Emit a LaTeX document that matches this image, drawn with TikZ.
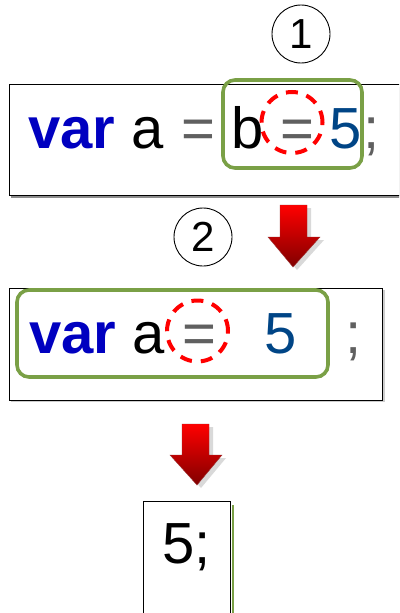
\documentclass[tikz,border=0pt]{standalone}
\usepackage{fontspec}
\setmainfont{Liberation Sans}
\definecolor{kwblue}{RGB}{0,0,192}
\definecolor{numblue}{RGB}{0,69,134}
\definecolor{opgray}{RGB}{96,96,96}
\definecolor{boxgreen}{RGB}{122,160,70}
\definecolor{arrred}{RGB}{255,0,0}
\definecolor{arrdark}{RGB}{128,0,0}
\tikzset{
  tok/.style={inner sep=0pt, anchor=base, font=\fontsize{58}{60}\selectfont},
  codebox/.style={draw=black, line width=0.9pt, fill=white},
  greenbox/.style={draw=boxgreen, line width=3.6pt, rounded corners=12pt},
  redring/.style={draw=red, line width=4pt, dash pattern=on 12pt off 9pt},
  numcircle/.style={draw=black, line width=0.9pt, circle, minimum size=58pt, inner sep=0pt, font=\fontsize{42}{44}\selectfont},
  arrshadow/.style={fill=black!15, draw=none},
  arrbody/.style={top color=arrred, bottom color=arrdark, draw=arrdark!80, line width=0.4pt}
}
\begin{document}
\begin{tikzpicture}[x=1pt,y=-1pt]
\useasboundingbox (0,0) rectangle (399,613);
\clip (0,0) rectangle (399,613);
\fill[white] (0,0) rectangle (399,613);

% ---------- circled numbers ----------
\node[numcircle] (n1) at (301,34) {1};
\node[numcircle] (n2) at (203,237) {2};

% ---------- box 1 ----------
\fill[black!45] (11,87) rectangle (412,198);
\draw[codebox] (9,84) rectangle (410,195);
\draw[greenbox] (223,80) rectangle (362,168);
\node[redring, circle, minimum size=61pt, inner sep=0pt] (r1) at (292,122.5) {};
\node[tok, text=kwblue, font=\fontsize{58}{60}\selectfont\bfseries] (l1var) at (72,148) {var};
\node[tok, text=black] (l1a) at (148,148) {a};
\node[tok, text=opgray] (l1eq1) at (198.5,148) {=};
\node[tok, text=black] (l1b) at (247.5,148) {b};
\node[tok, text=opgray] (l1eq2) at (297.5,148) {=};
\node[tok, text=numblue] (l1five) at (345.5,148) {5};
\node[tok, text=opgray] (l1semi) at (372,148) {;};

% ---------- arrow 1 ----------
\fill[arrshadow] (284,208) -- (311,208) -- (311,240) -- (324,240) -- (297,270) -- (272,240) -- (284,240) -- cycle;
\shade[arrbody] (280,205) -- (307,205) -- (307,237) -- (320,237) -- (293,267) -- (268,237) -- (280,237) -- cycle;

% ---------- box 2 ----------
\fill[black!20] (11,290) rectangle (385,402);
\draw[codebox] (9,288) rectangle (382,400);
\draw[greenbox] (17,290) rectangle (328,377);
\node[redring, circle, minimum size=61pt, inner sep=0pt] (r2) at (197.5,331) {};
\node[tok, text=kwblue, font=\fontsize{58}{60}\selectfont\bfseries] (l2var) at (73,353) {var};
\node[tok, text=black] (l2a) at (149,353) {a};
\node[tok, text=opgray] (l2eq) at (199,353) {=};
\node[tok, text=numblue] (l2five) at (281,353) {5};
\node[tok, text=opgray] (l2semi) at (354,353) {;};

% ---------- arrow 2 ----------
\fill[arrshadow] (186,427) -- (213,427) -- (213,458) -- (226,458) -- (201,488) -- (174,458) -- (186,458) -- cycle;
\shade[arrbody] (182,424) -- (209,424) -- (209,455) -- (222,455) -- (197,485) -- (170,455) -- (182,455) -- cycle;

% ---------- box 3 ----------
\draw[boxgreen, line width=2pt] (233,505) -- (233,620);
\draw[codebox] (143,501) rectangle (230,625);
\node[tok, text=black] (l3) at (186.5,563) {5;};
\end{tikzpicture}
\end{document}
